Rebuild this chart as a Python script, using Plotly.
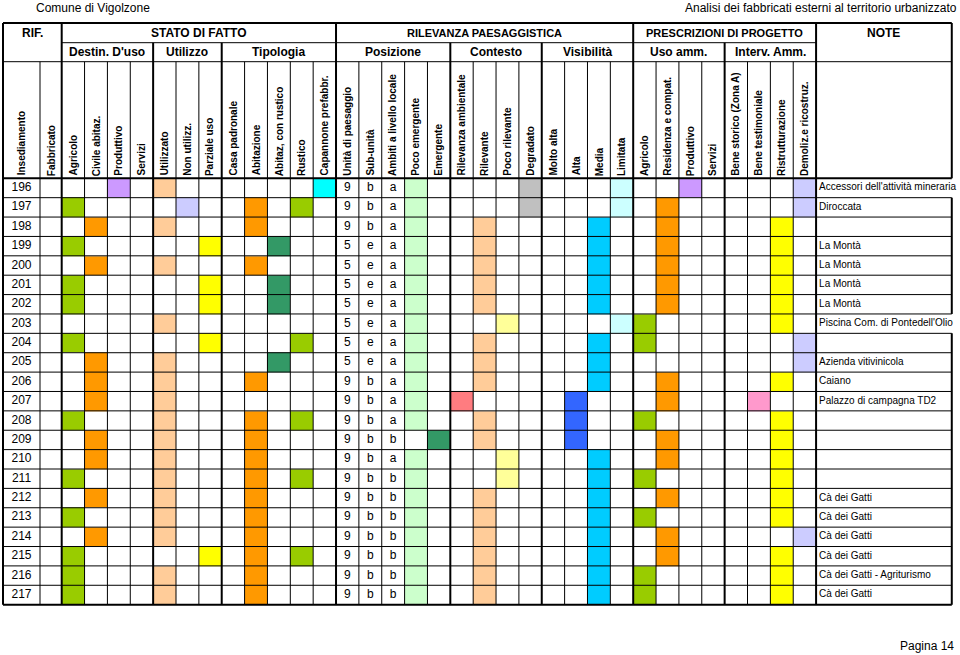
import plotly.graph_objects as go

# ------------------------------------------------------------------ data
rif = [196, 197, 198, 199, 200, 201, 202, 203, 204, 205, 206,
       207, 208, 209, 210, 211, 212, 213, 214, 215, 216, 217]

# selected option index inside each sub-group (None = nothing marked)
destinazione = [2, 0, 1, 0, 1, 0, 0, None, 0, 1, 1, 1, 0, 1, 1, 0, 1, 0, 1, 0, 0, 0]
utilizzo = [0, 1, 0, 2, 0, 2, 2, 0, 2, 0, 0, 0, 0, 0, 0, 0, 0, 0, 0, 2, 0, 0]
tipologia = [[4], [1, 3], [1], [2], [1], [2], [2], [], [3], [2], [1],
             [], [1, 3], [1], [1], [1, 3], [1], [1], [1], [1, 3], [1], [1]]
unita_paesaggio = ["9", "9", "9", "5", "5", "5", "5", "5", "5", "5", "9",
                   "9", "9", "9", "9", "9", "9", "9", "9", "9", "9", "9"]
sub_unita = ["b", "b", "b", "e", "e", "e", "e", "e", "e", "e", "b",
             "b", "b", "b", "b", "b", "b", "b", "b", "b", "b", "b"]
ambiti = ["a", "a", "a", "a", "a", "a", "a", "a", "a", "a", "a",
          "a", "a", "b", "a", "b", "b", "b", "b", "b", "b", "b"]
emergenza = [3, 3, 3, 3, 3, 3, 3, 3, 3, 3, 3, 3, 3, 4, 3, 3, 3, 3, 3, 3, 3, 3]
contesto = [3, 3, 1, 1, 1, 1, 1, 2, 1, 1, 1, 0, 1, 1, 2, 2, 1, 1, 1, 1, 1, 1]
visibilita = [3, 3, 2, 2, 2, 2, 2, 3, 2, 2, 2, 1, 1, 1, 2, 2, 2, 2, 2, 2, 2, 2]
uso_amm = [2, 1, 1, 1, 1, 1, 1, 0, 0, None, 1, 1, 0, 1, 1, 0, 1, 0, 1, 1, 0, 0]
interv_amm = [3, 3, 2, 2, 2, 2, 2, 2, 3, 3, 2, 1, 2, 2, 2, 2, 2, 2, 3, 2, 2, 2]
note = ["Accessori dell'attività mineraria", "Diroccata", "", "La Montà", "La Montà",
        "La Montà", "La Montà", "Piscina Com. di Pontedell'Olio", "",
        "Azienda vitivinicola", "Caiano", "Palazzo di campagna TD2", "", "", "", "",
        "Cà dei Gatti", "Cà dei Gatti", "Cà dei Gatti", "Cà dei Gatti",
        "Cà dei Gatti - Agriturismo", "Cà dei Gatti"]

# ------------------------------------------------------------------ structure / style
sezioni = [
    ("STATO DI FATTO", ["Destin. D'uso", "Utilizzo", "Tipologia"]),
    ("RILEVANZA PAESAGGISTICA", ["Posizione", "Contesto", "Visibilità"]),
    ("PRESCRIZIONI DI PROGETTO", ["Uso amm.", "Interv. Amm."]),
]
voci = {
    "Destin. D'uso": ["Agricolo", "Civile abitaz.", "Produttivo", "Servizi"],
    "Utilizzo": ["Utilizzato", "Non utilizz.", "Parziale uso"],
    "Tipologia": ["Casa padronale", "Abitazione", "Abitaz, con rustico", "Rustico",
                  "Capannone prefabbr."],
    "Posizione": ["Unità di paesaggio", "Sub-unità", "Ambiti a livello locale",
                  "Poco emergente", "Emergente"],
    "Contesto": ["Rilevanza ambientale", "Rilevante", "Poco rilevante", "Degradato"],
    "Visibilità": ["Molto alta", "Alta", "Media", "Limitata"],
    "Uso amm.": ["Agricolo", "Residenza e compat.", "Produttivo", "Servizi"],
    "Interv. Amm.": ["Bene storico (Zona A)", "Bene testimoniale", "Ristrutturazione",
                     "Demoliz.e ricostruz."],
}
colori = {
    "Destin. D'uso": ["#99CC00", "#FF9900", "#CC99FF", "#33CCCC"],
    "Utilizzo": ["#FFCC99", "#CCCCFF", "#FFFF00"],
    "Tipologia": ["#FF6600", "#FF9900", "#339966", "#99CC00", "#00FFFF"],
    "Posizione": [None, None, None, "#CCFFCC", "#339966"],
    "Contesto": ["#FF7C80", "#FFCC99", "#FFFF99", "#C0C0C0"],
    "Visibilità": ["#0000FF", "#3366FF", "#00CCFF", "#CCFFFF"],
    "Uso amm.": ["#99CC00", "#FF9900", "#CC99FF", "#33CCCC"],
    "Interv. Amm.": ["#993300", "#FF99CC", "#FFFF00", "#CCCCFF"],
}
selezioni = {
    "Destin. D'uso": destinazione, "Utilizzo": utilizzo, "Tipologia": tipologia,
    "Posizione": emergenza, "Contesto": contesto, "Visibilità": visibilita,
    "Uso amm.": uso_amm, "Interv. Amm.": interv_amm,
}

FONT = "Liberation Sans, Arial, Helvetica, sans-serif"
W, H = 960, 655
X0 = 3.0
W_RIF = [37.0, 21.7]
W_COL = 22.86
W_NOTE = 135.7
HDR_EDGES = [23.0, 42.7, 61.7, 178.3]
ROW_H = 19.38
THIN, THICK = 1, 2

# ------------------------------------------------------------------ geometry
sub_order = [s for _, subs in sezioni for s in subs]
n_opt = sum(len(voci[s]) for s in sub_order)
col_w = W_RIF + [W_COL] * n_opt + [W_NOTE]
xe = [X0]
for w in col_w:
    xe.append(xe[-1] + w)
ye = [HDR_EDGES[-1] + i * ROW_H for i in range(len(rif) + 1)]
n_cols = len(col_w)
NOTE_COL = n_cols - 1

sub_start = {}
c = 2
for s in sub_order:
    sub_start[s] = c
    c += len(voci[s])
sec_start = [sub_start[subs[0]] for _, subs in sezioni]

def cx(i0, i1=None):
    i1 = i0 if i1 is None else i1
    return (xe[i0] + xe[i1 + 1]) / 2

# ------------------------------------------------------------------ colour matrix
palette = []
col_color = [None] * n_cols
for s in sub_order:
    for k, colr in enumerate(colori[s]):
        if colr is not None and colr not in palette:
            palette.append(colr)
        col_color[sub_start[s] + k] = colr

z = [[None] * n_cols for _ in rif]
for s in sub_order:
    for r, v in enumerate(selezioni[s]):
        picks = [] if v is None else (v if isinstance(v, list) else [v])
        for k in picks:
            ci = sub_start[s] + k
            z[r][ci] = palette.index(col_color[ci])

N = len(palette)
cscale = []
for k, colr in enumerate(palette):
    cscale.append([k / N, colr])
    cscale.append([(k + 1) / N, colr])

fig = go.Figure()
fig.add_trace(go.Heatmap(
    x=xe, y=ye, z=z, colorscale=cscale, zmin=-0.5, zmax=N - 0.5,
    showscale=False, hoverinfo="skip", xgap=0, ygap=0))

# ------------------------------------------------------------------ grid lines
thin_x, thin_y, thick_x, thick_y = [], [], [], []

def seg(xs, ys, x0, y0, x1, y1):
    xs.extend([x0, x1, None])
    ys.extend([y0, y1, None])

bottom = ye[-1]
big = {0, 2, NOTE_COL, n_cols} | set(sec_start)
subb = set(sub_start.values()) | {NOTE_COL}
overflow_rows = [r for r, t in enumerate(note) if len(t) > 28]
for i, x in enumerate(xe):
    if i in big:
        if i == n_cols:
            # right border interrupted where long notes overflow
            y_prev = HDR_EDGES[0]
            for r in overflow_rows:
                seg(thick_x, thick_y, x, y_prev, x, ye[r])
                y_prev = ye[r + 1]
            seg(thick_x, thick_y, x, y_prev, x, bottom)
        else:
            seg(thick_x, thick_y, x, HDR_EDGES[0], x, bottom)
    elif i in subb:
        seg(thick_x, thick_y, x, HDR_EDGES[1], x, bottom)
    else:
        seg(thin_x, thin_y, x, HDR_EDGES[2], x, bottom)

seg(thin_x, thin_y, xe[2], HDR_EDGES[1], xe[NOTE_COL], HDR_EDGES[1])
seg(thin_x, thin_y, xe[0], HDR_EDGES[2], xe[-1], HDR_EDGES[2])
for y in ye[1:-1]:
    seg(thin_x, thin_y, xe[0], y, xe[-1], y)
for y in (HDR_EDGES[0], HDR_EDGES[3], bottom):
    seg(thick_x, thick_y, xe[0], y, xe[-1], y)

fig.add_trace(go.Scatter(x=thin_x, y=thin_y, mode="lines", hoverinfo="skip",
                         line=dict(color="black", width=THIN)))
fig.add_trace(go.Scatter(x=thick_x, y=thick_y, mode="lines", hoverinfo="skip",
                         line=dict(color="black", width=THICK)))

# ------------------------------------------------------------------ cell texts
yc = [(ye[r] + ye[r + 1]) / 2 for r in range(len(rif))]
txt_font = dict(family=FONT, size=12, color="black")
fig.add_trace(go.Scatter(x=[cx(0)] * len(rif), y=yc, text=[str(v) for v in rif],
                         mode="text", textposition="middle center",
                         textfont=txt_font, hoverinfo="skip"))
p0 = sub_start["Posizione"]
for k, col in enumerate([unita_paesaggio, sub_unita, ambiti]):
    fig.add_trace(go.Scatter(x=[cx(p0 + k)] * len(rif), y=yc, text=col,
                             mode="text", textposition="middle center",
                             textfont=txt_font, hoverinfo="skip"))
fig.add_trace(go.Scatter(x=[xe[NOTE_COL] + 3] * len(rif), y=yc, text=note,
                         mode="text", textposition="middle right",
                         textfont=dict(family=FONT, size=10, color="black"),
                         hoverinfo="skip", cliponaxis=False))

# ------------------------------------------------------------------ header texts
ann = []
bold12 = dict(family=FONT, size=12, color="black", weight="bold")
ymid1 = (HDR_EDGES[0] + HDR_EDGES[1]) / 2
ymid2 = (HDR_EDGES[1] + HDR_EDGES[2]) / 2
ann.append(dict(x=cx(0, 1), y=ymid1, text="RIF.", font=bold12))
ann.append(dict(x=cx(NOTE_COL), y=ymid1, text="NOTE", font=bold12))
for si, (title, subs) in enumerate(sezioni):
    a = sub_start[subs[0]]
    b = sub_start[subs[-1]] + len(voci[subs[-1]]) - 1
    f = dict(bold12)
    if len(title) > 22:
        f["size"] = 11
    ann.append(dict(x=cx(a, b), y=ymid1, text=title, font=f))
    for s in subs:
        a2 = sub_start[s]
        ann.append(dict(x=cx(a2, a2 + len(voci[s]) - 1), y=ymid2, text=s, font=bold12))

labels = ["Insediamento", "Fabbricato"] + [v for s in sub_order for v in voci[s]]
for i, lab in enumerate(labels):
    ann.append(dict(x=cx(i), y=HDR_EDGES[3] - 1.5, text=lab, textangle=-90,
                    yanchor="bottom",
                    font=dict(family=FONT, size=10, color="black", weight="bold")))

plain12 = dict(family=FONT, size=12, color="black")
ann.append(dict(x=35, y=8, text="Comune di Vigolzone", xanchor="left", font=plain12))
ann.append(dict(x=958, y=8, text="Analisi dei fabbricati esterni al territorio urbanizzato",
                xanchor="right", font=plain12))
ann.append(dict(x=955, y=646, text="Pagina 14", xanchor="right", font=plain12))

for a in ann:
    a.setdefault("xref", "x")
    a.setdefault("yref", "y")
    a.setdefault("showarrow", False)
    a.setdefault("borderpad", 0)
fig.update_layout(annotations=ann)

fig.update_layout(
    width=W, height=H, margin=dict(l=0, r=0, t=0, b=0),
    paper_bgcolor="white", plot_bgcolor="white", showlegend=False,
    xaxis=dict(range=[0, W], visible=False, fixedrange=True),
    yaxis=dict(range=[H, 0], visible=False, fixedrange=True),
)

fig.write_html("out.html", config={"displayModeBar": False},
               post_script="document.body.style.margin='0';"
                           "document.body.style.overflow='hidden';")
